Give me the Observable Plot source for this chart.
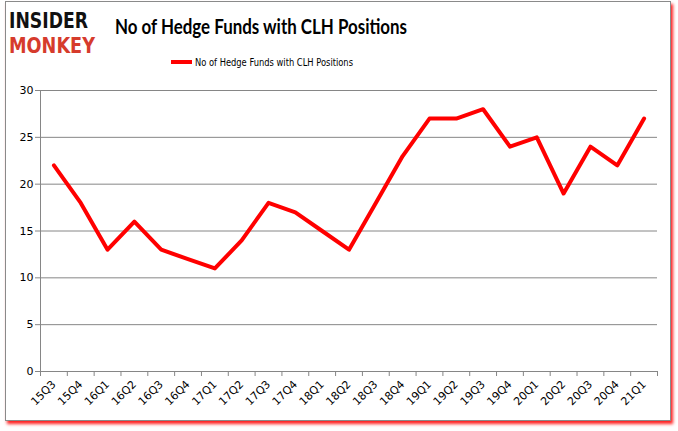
<!DOCTYPE html>
<html><head><meta charset="utf-8">
<script src="https://cdn.jsdelivr.net/npm/d3@7"></script>
<script src="https://cdn.jsdelivr.net/npm/@observablehq/plot@0.6"></script>
<style>
body{margin:0;background:#fff;}
#wrap{position:relative;width:678px;height:431px;overflow:hidden;background:#fff;}
#card{position:absolute;left:5px;top:1px;width:664px;height:418px;border:1px solid #8a8a8a;box-shadow:2px 3px 3px #ff2020;background:#fff;}
#head{position:absolute;left:0;top:0;width:678px;height:80px;}
#chart{position:absolute;left:0;top:80px;}
</style></head>
<body>
<div id="wrap">
<div id="card"></div>
<svg id="head" width="678" height="80">
  <text x="9" y="28" font-family="DejaVu Sans" font-weight="bold" font-size="21" fill="#111" textLength="79" lengthAdjust="spacingAndGlyphs">INSIDER</text>
  <text x="9" y="53" font-family="DejaVu Sans" font-weight="bold" font-size="21" fill="#d63b2c" textLength="86" lengthAdjust="spacingAndGlyphs">MONKEY</text>
  <text id="title" x="115" y="34" font-family="Lato" font-weight="bold" font-size="20" fill="#000" textLength="292" lengthAdjust="spacingAndGlyphs"></text>
  <line x1="171" x2="192" y1="62" y2="62" stroke="#ff0000" stroke-width="4"/>
  <text id="legend" x="195" y="66" font-family="DejaVu Sans" font-size="11" fill="#000" textLength="158" lengthAdjust="spacingAndGlyphs"></text>
</svg>
<div id="chart"></div>
</div>
<script>
const title = "No of Hedge Funds with CLH Positions";
const seriesName = "No of Hedge Funds with CLH Positions";
const quarters = ["15Q3","15Q4","16Q1","16Q2","16Q3","16Q4","17Q1","17Q2","17Q3","17Q4","18Q1","18Q2","18Q3","18Q4","19Q1","19Q2","19Q3","19Q4","20Q1","20Q2","20Q3","20Q4","21Q1"];
const funds = [22,18,13,16,13,12,11,14,18,17,15,13,18,23,27,27,28,24,25,19,24,22,27];
const yTicks = [0,5,10,15,20,25,30];

document.getElementById("title").textContent = title;
document.getElementById("legend").textContent = seriesName;

const data = quarters.map((q,i)=>({i, q, v: funds[i]}));
const boundaries = d3.range(quarters.length + 1).map(k => k - 0.5);

const chart = Plot.plot({
  width: 678,
  height: 351,
  marginLeft: 40,
  marginRight: 21,
  marginTop: 10,
  marginBottom: 60,
  style: {fontFamily: "DejaVu Sans", fontSize: "11px", color: "#000", background: "transparent"},
  x: {type: "linear", domain: [-0.5, quarters.length - 0.5]},
  y: {domain: [0, 30]},
  marks: [
    Plot.gridY(yTicks, {stroke: "#868686", strokeOpacity: 1, strokeWidth: 1}),
    Plot.ruleX([-0.5], {stroke: "#868686", strokeWidth: 1}),
    Plot.ruleY([0], {stroke: "#868686", strokeWidth: 1}),
    Plot.axisY({ticks: yTicks, tickSize: 5, tickPadding: 2, stroke: "#868686", label: null, fill: "#000"}),
    Plot.axisX({ticks: boundaries, tickSize: 5, tickFormat: () => "", stroke: "#868686", label: null}),
    Plot.axisX({ticks: d3.range(quarters.length), tickSize: 0, tickPadding: 11, tickRotate: -45,
      tickFormat: i => quarters[i], label: null, fill: "#000"}),
    Plot.line(data, {x: "i", y: "v", stroke: "#ff0000", strokeWidth: 4, strokeLinejoin: "round"})
  ]
});
document.getElementById("chart").appendChild(chart);
</script>
</body></html>
